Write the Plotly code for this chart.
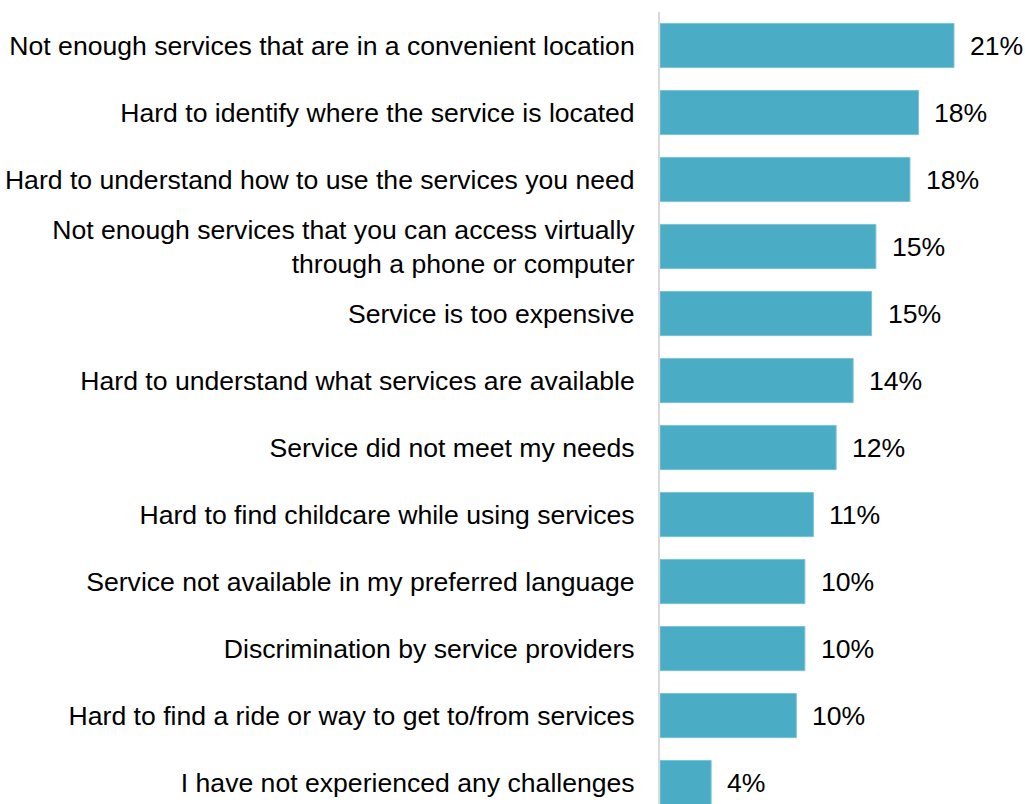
import plotly.graph_objects as go

# Reported challenges when accessing services (% of respondents)
categories = [
    "Not enough services that are in a convenient location",
    "Hard to identify where the service is located",
    "Hard to understand how to use the services you need",
    "Not enough services that you can access virtually<br>through a phone or computer",
    "Service is too expensive",
    "Hard to understand what services are available",
    "Service did not meet my needs",
    "Hard to find childcare while using services",
    "Service not available in my preferred language",
    "Discrimination by service providers",
    "Hard to find a ride or way to get to/from services",
    "I have not experienced any challenges",
]
values = [20.7, 18.2, 17.6, 15.2, 14.9, 13.6, 12.4, 10.8, 10.2, 10.2, 9.6, 3.6]
value_labels = [f"{round(v):.0f}%" for v in values]

BAR_COLOR = "#4BACC6"
FONT = "Liberation Sans, Arial, sans-serif"
FONT_SIZE = 26.6

fig = go.Figure(
    go.Bar(
        x=values,
        y=categories,
        orientation="h",
        width=0.66,
        marker=dict(color=BAR_COLOR, line=dict(color="#7cc3d6", width=1)),
        hoverinfo="skip",
    )
)

# Percent labels placed just past the end of each bar
for cat, val, lab in zip(categories, values, value_labels):
    fig.add_annotation(
        x=val, y=cat, text=lab, showarrow=False,
        xanchor="left", yanchor="middle", xshift=14,
        font=dict(family=FONT, size=FONT_SIZE, color="#000000"),
    )

fig.update_layout(
    width=1025,
    height=804,
    margin=dict(l=660, r=0, t=12, b=0, pad=0),
    paper_bgcolor="white",
    plot_bgcolor="white",
    showlegend=False,
    font=dict(family=FONT, size=FONT_SIZE, color="#000000"),
    bargap=0.34,
)
fig.update_xaxes(
    range=[0, 25.7], visible=False, showgrid=False, zeroline=False,
)
fig.update_yaxes(
    type="category",
    range=[11.32, -0.5],
    showline=True, linecolor="#d9d9d9", linewidth=2,
    showgrid=False, zeroline=False, ticks="",
    ticklabelstandoff=18,
    tickfont=dict(family=FONT, size=FONT_SIZE, color="#000000"),
)

fig.write_html("out.html")
